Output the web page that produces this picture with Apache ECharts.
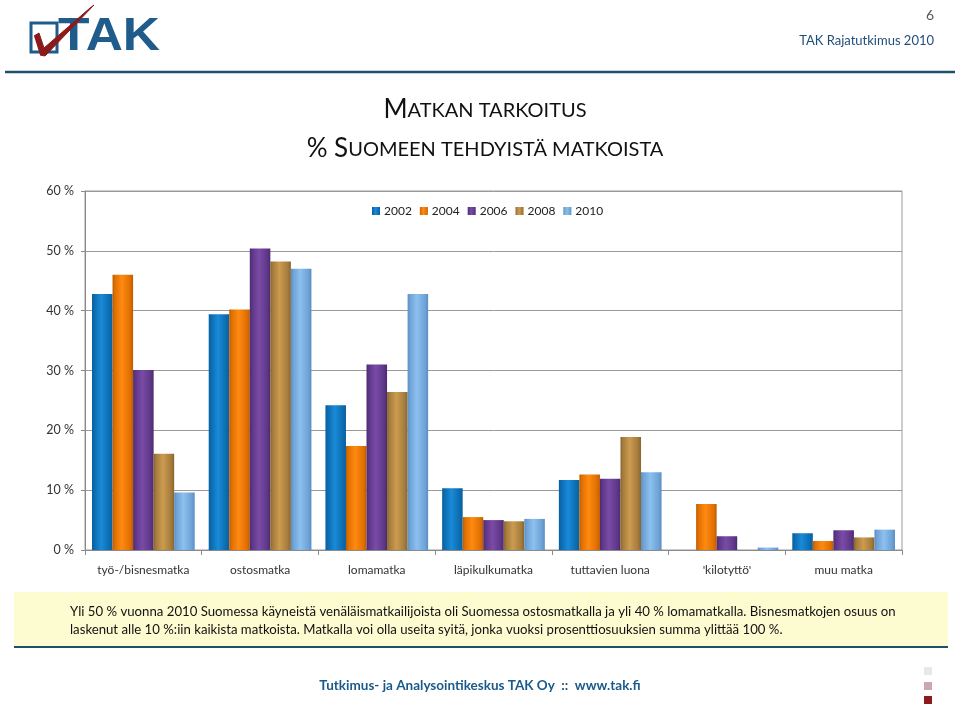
<!DOCTYPE html>
<html>
<head>
<meta charset="utf-8">
<script src="https://cdn.jsdelivr.net/npm/echarts@6/dist/echarts.min.js"></script>
<style>
html,body{margin:0;padding:0;background:#fff;}
#chart{width:960px;height:704px;}
</style>
</head>
<body>
<div id="chart"></div>
<script>
// ---- data ----
var categories = ['työ-/bisnesmatka', 'ostosmatka', 'lomamatka', 'läpikulkumatka', 'tuttavien luona', "'kilotyttö'", 'muu matka'];
var years = ['2002', '2004', '2006', '2008', '2010'];
var v2002 = [42.8, 39.4, 24.2, 10.3, 11.7, null, 2.8];
var v2004 = [46.0, 40.2, 17.4, 5.5, 12.6, 7.7, 1.5];
var v2006 = [30.1, 50.4, 31.0, 5.0, 11.9, 2.3, 3.3];
var v2008 = [16.1, 48.2, 26.4, 4.8, 18.9, null, 2.1];
var v2010 = [9.6, 47.0, 42.8, 5.2, 13.0, 0.4, 3.4];
var yTicks = [0, 10, 20, 30, 40, 50, 60];

var seriesValues = [v2002, v2004, v2006, v2008, v2010];
var palette = [
  ['#0a5f9e', '#1a8ad8', '#0b6cb0'],
  ['#c05a00', '#ff8a12', '#e07000'],
  ['#4c2a6e', '#7a4ba6', '#5e3788'],
  ['#87652c', '#cc9b50', '#a47c3c'],
  ['#5a8fc4', '#8cc0ee', '#6fa2d6']
];
function grad(c) {
  return new echarts.graphic.LinearGradient(0, 0, 1, 0, [
    {offset: 0, color: c[0]},
    {offset: 0.12, color: c[2]},
    {offset: 0.45, color: c[1]},
    {offset: 0.85, color: c[2]},
    {offset: 1, color: c[0]}
  ]);
}

var FONT = 'Lato, "Open Sans", sans-serif';
var chart = echarts.init(document.getElementById('chart'), null, {renderer: 'canvas'});

var series = years.map(function (y, i) {
  return {
    name: y,
    type: 'bar',
    data: seriesValues[i],
    barGap: '0%',
    barCategoryGap: '12%',
    itemStyle: {color: grad(palette[i])}
  };
});

chart.setOption({
  animation: false,
  textStyle: {fontFamily: FONT},
  title: {
    left: 480,
    top: 85,
    textAlign: 'center',
    text: '{b|M}{s|ATKAN TARKOITUS}\n{b|% S}{s|UOMEEN TEHDYISTÄ MATKOISTA}',
    textStyle: {
      fontFamily: FONT,
      fontWeight: 'normal',
      lineHeight: 39,
      rich: {
        b: {fontSize: 26, color: '#111', fontFamily: FONT, fontWeight: 'normal', lineHeight: 39},
        s: {fontSize: 20, color: '#111', fontFamily: FONT, fontWeight: 'normal', lineHeight: 39, padding: [3, 0, 0, 0]}
      }
    }
  },
  legend: {
    left: 367,
    top: 200,
    itemWidth: 8,
    itemHeight: 8,
    itemGap: 8,
    icon: 'rect',
    data: years,
    textStyle: {fontSize: 12, color: '#222', fontFamily: FONT, padding: [0, 0, 0, -1]}
  },
  grid: {
    left: 85, right: 58, top: 191, bottom: 154,
    show: true, borderColor: '#9a9a9a', borderWidth: 1, backgroundColor: 'transparent'
  },
  xAxis: {
    type: 'category',
    data: categories,
    axisLine: {lineStyle: {color: '#8a8a8a'}},
    axisTick: {show: true, length: 5, lineStyle: {color: '#8a8a8a'}},
    axisLabel: {fontSize: 12, color: '#333', margin: 14, interval: 0, fontFamily: FONT}
  },
  yAxis: {
    type: 'value',
    min: yTicks[0],
    max: yTicks[yTicks.length - 1],
    interval: 10,
    axisLine: {show: true, lineStyle: {color: '#8a8a8a'}},
    axisTick: {show: true, length: 4, lineStyle: {color: '#8a8a8a'}},
    axisLabel: {fontSize: 12.5, color: '#333', margin: 11, formatter: '{value} %', fontFamily: FONT},
    splitLine: {lineStyle: {color: '#9a9a9a', width: 1}}
  },
  series: series,
  graphic: [
    // header
    {type: 'text', style: {x: 934, y: 8, text: '6', fontSize: 14, fill: '#555', fontFamily: FONT, align: 'right'}},
    {type: 'text', style: {x: 934, y: 34, text: 'TAK Rajatutkimus 2010', fontSize: 13, fill: '#1f4e79', fontFamily: FONT, align: 'right'}},
    {type: 'line', shape: {x1: 5, y1: 72, x2: 955, y2: 72}, style: {stroke: '#1f4f6e', lineWidth: 2.5}},
    // logo
    {type: 'rect', shape: {x: 31, y: 23, width: 26, height: 29}, style: {fill: 'none', stroke: '#1f5c8b', lineWidth: 3}},
    {type: 'text', x: 58, y: 14, scaleX: 1.12, style: {x: 0, y: 0, text: 'TAK', fontSize: 46, fontWeight: 900, fill: '#1f5c8b', fontFamily: '"Liberation Sans", Arial, sans-serif'}},
    {type: 'polyline', shape: {points: [[34, 36], [39, 33], [44, 48], [90, 8], [94, 5], [45, 56], [40, 55]]}, style: {fill: '#8b1a1a', stroke: '#8b1a1a', lineWidth: 1}},
    // note box
    {type: 'rect', shape: {x: 14, y: 592, width: 934, height: 55}, style: {fill: '#fdfbd0'}},
    {type: 'line', shape: {x1: 14, y1: 647, x2: 948, y2: 647}, style: {stroke: '#1f4f6e', lineWidth: 2}},
    {type: 'text', style: {x: 70, y: 603,
      text: 'Yli 50 % vuonna 2010 Suomessa käyneistä venäläismatkailijoista oli Suomessa ostosmatkalla ja yli 40 % lomamatkalla. Bisnesmatkojen osuus on\nlaskenut alle 10 %:iin kaikista matkoista. Matkalla voi olla useita syitä, jonka vuoksi prosenttiosuuksien summa ylittää 100 %.',
      fontSize: 13.2, lineHeight: 18, fill: '#111', fontFamily: FONT}},
    // footer
    {type: 'text', style: {x: 480, y: 679, text: 'Tutkimus- ja Analysointikeskus TAK Oy  ::  www.tak.fi', fontSize: 13.5, fontWeight: 'bold', fill: '#1a5a8a', fontFamily: FONT, align: 'center'}},
    {type: 'rect', shape: {x: 924, y: 667, width: 8, height: 8}, style: {fill: '#e8e8e8'}},
    {type: 'rect', shape: {x: 924, y: 682, width: 8, height: 8}, style: {fill: '#c9a8ae'}},
    {type: 'rect', shape: {x: 924, y: 696, width: 8, height: 8}, style: {fill: '#8b1a1a'}}
  ]
});
</script>
</body>
</html>
